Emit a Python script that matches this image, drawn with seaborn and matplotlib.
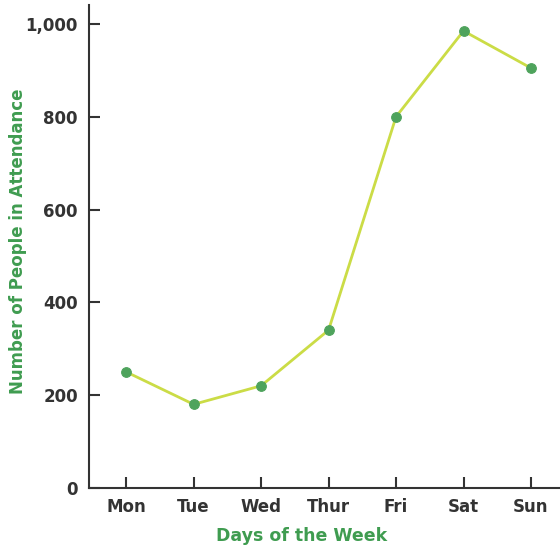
import matplotlib
matplotlib.use("Agg")
import matplotlib.pyplot as plt
import matplotlib.ticker as mticker
import seaborn as sns
import pandas as pd

# データ
days = ["Mon", "Tue", "Wed", "Thur", "Fri", "Sat", "Sun"]
attendance = [250, 180, 220, 340, 800, 985, 905]
y_ticks = [0, 200, 400, 600, 800, 1000]

sns.set_style("white")
plt.rcParams['font.family'] = ['DejaVu Sans']

df = pd.DataFrame({"day": days, "people": attendance})

fig = plt.figure(figsize=(5.6, 5.5), dpi=100)
ax = fig.add_axes([0.159, 0.113, 0.841, 0.878])

sns.lineplot(data=df, x="day", y="people", sort=False, ax=ax,
             color="#cbdc46", linewidth=2, marker="o", markersize=7,
             markerfacecolor="#4ea35c", markeredgecolor="#4ea35c")

ax.set_xlim(-0.55, 6.43)
ax.set_ylim(0, 1041)
ax.set_yticks(y_ticks)
ax.yaxis.set_major_formatter(mticker.FuncFormatter(lambda v, p: f"{int(v):,}"))

for s in ["top", "right"]:
    ax.spines[s].set_visible(False)
for s in ["left", "bottom"]:
    ax.spines[s].set_color("#333333")
    ax.spines[s].set_linewidth(1.5)

# 目盛りは内向き
ax.tick_params(axis="both", direction="in", length=8, width=1.5, color="#333333",
               labelcolor="#333333", labelsize=12, pad=8, bottom=True, left=True)
ax.tick_params(axis="x", pad=7)
for lab in ax.get_xticklabels() + ax.get_yticklabels():
    lab.set_fontweight("bold")

green = "#3f9c50"
ax.set_xlabel("Days of the Week", color=green, fontsize=12.5, fontweight="bold")
ax.set_ylabel("Number of People in Attendance", color=green, fontsize=12,
              fontweight="bold")
ax.xaxis.set_label_coords(0.452, -0.081)
ax.yaxis.set_label_coords(-0.132, 0.51)

plt.savefig("out.png", dpi=100)
